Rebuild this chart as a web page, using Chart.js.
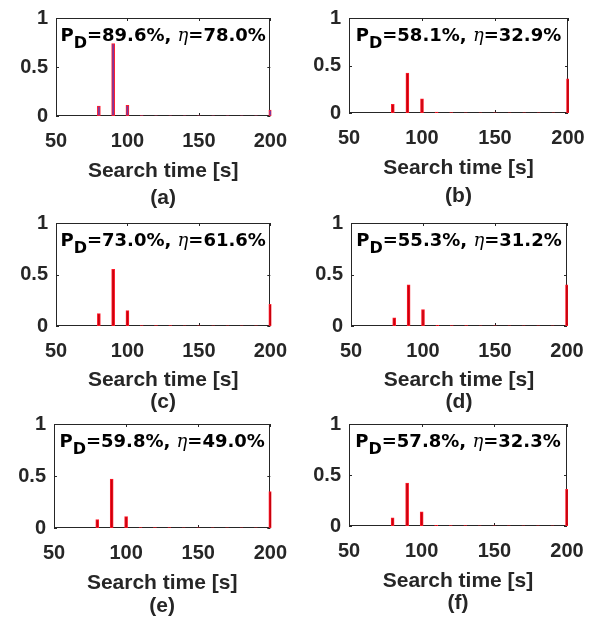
<!DOCTYPE html>
<html>
<head>
<meta charset="utf-8">
<script src="https://cdn.jsdelivr.net/npm/chart.js@4"></script>
<style>
  body { margin: 0; background: #fff; }
  #wrap { position: relative; width: 600px; height: 621px; }
  .panel { position: absolute; }
</style>
</head>
<body>
<div id="wrap"></div>
<script>
// Temps de recherche (s)
const searchTimes = [80, 90, 100, 110, 120, 130, 140, 150, 160, 170, 180, 190, 200];

// Probabilité pour chaque panneau
const probA = [0.10, 0.74, 0.11, 0.004, 0.003, 0.003, 0.002, 0.002, 0.002, 0.002, 0.002, 0.002, 0.06];
const probB = [0.09, 0.42, 0.15, 0.01, 0.004, 0.003, 0.003, 0.002, 0.002, 0.002, 0.002, 0.002, 0.36];
const probC = [0.12, 0.55, 0.15, 0.004, 0.003, 0.003, 0.002, 0.002, 0.002, 0.002, 0.002, 0.002, 0.21];
const probD = [0.08, 0.40, 0.16, 0.006, 0.003, 0.003, 0.002, 0.002, 0.002, 0.002, 0.002, 0.002, 0.40];
const probE = [0.08, 0.47, 0.11, 0.005, 0.003, 0.003, 0.002, 0.002, 0.002, 0.002, 0.002, 0.002, 0.35];
const probF = [0.08, 0.42, 0.14, 0.006, 0.003, 0.003, 0.002, 0.002, 0.002, 0.002, 0.002, 0.002, 0.36];

// Textes des annotations
const pdLabels = ['89.6%', '58.1%', '73.0%', '55.3%', '59.8%', '57.8%'];
const etaLabels = ['78.0%', '32.9%', '61.6%', '31.2%', '49.0%', '32.3%'];
const panelLabels = ['(a)', '(b)', '(c)', '(d)', '(e)', '(f)'];

// Ticks des axes
const xTicks = [50, 100, 150, 200];
const yTicks = [0, 0.5, 1];

const allProbs = [probA, probB, probC, probD, probE, probF];

// Mise en page de chaque panneau (position du canvas et zone du graphique)
const layouts = [
  { left: 0,   top: 0,   h: 215, padTop: 13, padRight: 27, yWidth: 56, xHeight: 99,  lh: 27, pb: 3.5 },
  { left: 300, top: 0,   h: 215, padTop: 11, padRight: 32, yWidth: 49, xHeight: 102, lh: 28, pb: 5 },
  { left: 0,   top: 205, h: 215, padTop: 13, padRight: 27, yWidth: 56, xHeight: 94,  lh: 22, pb: 7 },
  { left: 300, top: 205, h: 215, padTop: 13, padRight: 33, yWidth: 51, xHeight: 94,  lh: 22, pb: 7 },
  { left: 0,   top: 406, h: 215, padTop: 17, padRight: 28, yWidth: 54, xHeight: 93,  lh: 23, pb: 3.5 },
  { left: 300, top: 406, h: 215, padTop: 14, padRight: 33, yWidth: 49, xHeight: 95,  lh: 22, pb: 7 }
];

const axisColor = '#262626';
const fontFamily = '"Liberation Sans", Arial, sans-serif';

// Cadre + ticks vers l'intérieur (style MATLAB), dessiné sous les barres
const boxPlugin = {
  id: 'box',
  beforeDatasetsDraw(chart) {
    const ctx = chart.ctx;
    const a = chart.chartArea;
    const xs = chart.scales.x, ys = chart.scales.y;
    ctx.save();
    ctx.strokeStyle = axisColor;
    ctx.lineWidth = 1;
    ctx.strokeRect(Math.round(a.left) + 0.5, Math.round(a.top) + 0.5,
                   Math.round(a.right - a.left) - 1, Math.round(a.bottom - a.top) - 1);
    ctx.beginPath();
    xs.ticks.forEach((t, i) => {
      const px = Math.round(xs.getPixelForTick(i)) + 0.5;
      ctx.moveTo(px, a.bottom); ctx.lineTo(px, a.bottom - 3);
      ctx.moveTo(px, a.top); ctx.lineTo(px, a.top + 3);
    });
    ys.ticks.forEach((t, i) => {
      const py = Math.round(ys.getPixelForTick(i)) + 0.5;
      ctx.moveTo(a.left, py); ctx.lineTo(a.left + 3, py);
      ctx.moveTo(a.right, py); ctx.lineTo(a.right - 3, py);
    });
    ctx.stroke();
    ctx.restore();
  }
};

// Annotation "P_D=..., η=..."
const annotPlugin = {
  id: 'annot',
  afterDraw(chart, args, opts) {
    const ctx = chart.ctx;
    const a = chart.chartArea;
    const mainFont = 'bold 18px "DejaVu Sans", sans-serif';
    const subFont = 'bold 16px "DejaVu Sans", sans-serif';
    const etaFont = 'italic 18px "DejaVu Serif", serif';
    const parts = [
      { t: 'P', f: mainFont, dy: 0 },
      { t: 'D', f: subFont, dy: 7 },
      { t: '=' + opts.pd + ', ', f: mainFont, dy: 0 },
      { t: '\u03b7', f: etaFont, dy: 0 },
      { t: '=' + opts.eta, f: mainFont, dy: 0 }
    ];
    ctx.save();
    let total = 0;
    parts.forEach(p => { ctx.font = p.f; p.w = ctx.measureText(p.t).width; total += p.w; });
    let x = (a.left + a.right) / 2 - total / 2;
    const y = a.top + 23;
    ctx.fillStyle = '#000';
    ctx.textBaseline = 'alphabetic';
    ctx.textAlign = 'left';
    parts.forEach(p => {
      ctx.font = p.f;
      ctx.fillText(p.t, x, y + p.dy);
      x += p.w;
    });
    ctx.restore();
  }
};

function makePanel(i) {
  const lay = layouts[i];
  const div = document.createElement('div');
  div.className = 'panel';
  div.style.left = lay.left + 'px';
  div.style.top = lay.top + 'px';
  div.style.width = '300px';
  div.style.height = lay.h + 'px';
  const canvas = document.createElement('canvas');
  div.appendChild(canvas);
  document.getElementById('wrap').appendChild(div);

  const probs = allProbs[i];
  const first = i === 0;

  new Chart(canvas, {
    type: 'bar',
    data: {
      datasets: [{
        data: searchTimes.map((t, k) => ({ x: t, y: probs[k] })),
        backgroundColor: first ? '#7a3aa0' : '#c8000c',
        borderColor: '#ff1a2a',
        borderWidth: 1,
        borderSkipped: false,
        barThickness: 3,
        clip: { left: 0, top: 0, right: 1, bottom: 0 }
      }]
    },
    options: {
      responsive: true,
      maintainAspectRatio: false,
      animation: false,
      layout: { padding: { top: lay.padTop, right: lay.padRight, left: 0, bottom: 0 } },
      plugins: {
        legend: { display: false },
        tooltip: { enabled: false },
        annot: { pd: pdLabels[i], eta: etaLabels[i] }
      },
      scales: {
        x: {
          type: 'linear',
          min: xTicks[0],
          max: xTicks[xTicks.length - 1],
          offset: false,
          afterBuildTicks: s => { s.ticks = xTicks.map(v => ({ value: v })); },
          afterFit: s => { s.height = lay.xHeight; },
          grid: { display: false, drawTicks: false, offset: false },
          border: { display: false },
          ticks: {
            color: axisColor,
            padding: 13,
            maxRotation: 0,
            callback: v => String(v),
            font: { family: fontFamily, size: 20, weight: 'bold' }
          },
          title: {
            display: true,
            text: ['Search time [s]', panelLabels[i]],
            color: axisColor,
            padding: { top: 0, bottom: lay.pb },
            font: { family: fontFamily, size: 21, weight: 'bold', lineHeight: lay.lh + 'px' }
          }
        },
        y: {
          min: yTicks[0],
          max: yTicks[yTicks.length - 1],
          afterBuildTicks: s => { s.ticks = yTicks.map(v => ({ value: v })); },
          afterFit: s => { s.width = lay.yWidth; },
          grid: { display: false, drawTicks: false },
          border: { display: false },
          ticks: {
            color: axisColor,
            padding: 8,
            callback: v => String(v),
            font: { family: fontFamily, size: 20, weight: 'bold', lineHeight: 1 }
          }
        }
      }
    },
    plugins: [boxPlugin, annotPlugin]
  });
}

for (let i = 0; i < 6; i++) makePanel(i);
</script>
</body>
</html>
